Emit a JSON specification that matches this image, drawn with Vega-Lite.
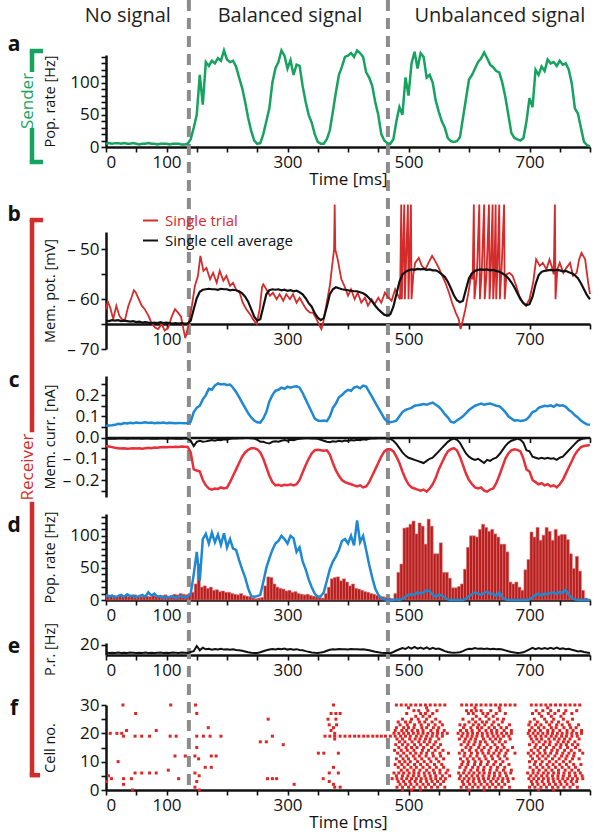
{
"$schema":"https://vega.github.io/schema/vega-lite/v6.json",
"width":484,"height":835,"autosize":"none",
"padding":{"left":106,"top":0,"right":10,"bottom":0},
"config":{"font":"Open Sans","view":{"stroke":null},
"axis":{"grid":false,"domainColor":"#111111","domainWidth":2.5,"tickColor":"#111111","tickWidth":1.6,"tickSize":5,"labelColor":"#111111","labelFontSize":17,"labelPadding":2,"titleColor":"#111111","titleFontSize":14.5,"titleFontWeight":"normal","labelOverlap":false}},
"datasets":{
"ts":[
{"t":0,"a":5,"bk":-64.3,"ce":0.055,"ci":-0.04,"cn":-0.004,"db":8,"dh":8,"e":14.6},
{"t":5,"a":6,"bk":-64.4,"ce":0.057,"ci":-0.042,"cn":-0.005,"db":5,"dh":6,"e":14.3},
{"t":10,"a":5,"bk":-64.2,"ce":0.058,"ci":-0.045,"cn":-0.004,"db":7,"dh":7,"e":14.5},
{"t":15,"a":6,"bk":-64.3,"ce":0.06,"ci":-0.048,"cn":-0.006,"db":4,"dh":5,"e":14.4},
{"t":20,"a":6,"bk":-64.2,"ce":0.065,"ci":-0.05,"cn":-0.005,"db":6,"dh":8,"e":14.6},
{"t":25,"a":5,"bk":-64.4,"ce":0.063,"ci":-0.052,"cn":-0.004,"db":8,"dh":6,"e":14.3},
{"t":30,"a":6,"bk":-64.3,"ce":0.068,"ci":-0.05,"cn":-0.005,"db":5,"dh":7,"e":14.5},
{"t":35,"a":5,"bk":-64.4,"ce":0.066,"ci":-0.053,"cn":-0.006,"db":9,"dh":5,"e":14.4},
{"t":40,"a":5,"bk":-64.5,"ce":0.07,"ci":-0.052,"cn":-0.004,"db":6,"dh":6,"e":14.6},
{"t":45,"a":6,"bk":-64.4,"ce":0.068,"ci":-0.05,"cn":-0.005,"db":7,"dh":8,"e":14.5},
{"t":50,"a":5,"bk":-64.6,"ce":0.071,"ci":-0.052,"cn":-0.005,"db":4,"dh":6,"e":14.3},
{"t":55,"a":4,"bk":-64.5,"ce":0.069,"ci":-0.05,"cn":-0.004,"db":6,"dh":5,"e":14.5},
{"t":60,"a":5,"bk":-64.7,"ce":0.07,"ci":-0.053,"cn":-0.006,"db":8,"dh":7,"e":14.4},
{"t":65,"a":5,"bk":-64.6,"ce":0.072,"ci":-0.05,"cn":-0.005,"db":5,"dh":6,"e":14.6},
{"t":70,"a":6,"bk":-64.7,"ce":0.069,"ci":-0.048,"cn":-0.004,"db":12,"dh":5,"e":14.4},
{"t":75,"a":5,"bk":-64.8,"ce":0.071,"ci":-0.05,"cn":-0.005,"db":7,"dh":7,"e":14.5},
{"t":80,"a":5,"bk":-64.7,"ce":0.068,"ci":-0.047,"cn":-0.004,"db":10,"dh":6,"e":14.3},
{"t":85,"a":4,"bk":-64.8,"ce":0.07,"ci":-0.048,"cn":-0.006,"db":5,"dh":5,"e":14.5},
{"t":90,"a":5,"bk":-64.6,"ce":0.069,"ci":-0.046,"cn":-0.005,"db":6,"dh":7,"e":14.6},
{"t":95,"a":5,"bk":-64.8,"ce":0.071,"ci":-0.045,"cn":-0.004,"db":3,"dh":8,"e":14.4},
{"t":100,"a":5,"bk":-64.7,"ce":0.068,"ci":-0.046,"cn":-0.005,"db":5,"dh":6,"e":14.5},
{"t":105,"a":4,"bk":-64.8,"ce":0.07,"ci":-0.044,"cn":-0.004,"db":4,"dh":7,"e":14.4},
{"t":110,"a":5,"bk":-64.9,"ce":0.069,"ci":-0.045,"cn":-0.005,"db":6,"dh":9,"e":14.6},
{"t":115,"a":5,"bk":-64.8,"ce":0.068,"ci":-0.043,"cn":-0.006,"db":3,"dh":8,"e":14.5},
{"t":120,"a":5,"bk":-64.9,"ce":0.069,"ci":-0.044,"cn":-0.004,"db":5,"dh":10,"e":14.4},
{"t":125,"a":4,"bk":-64.8,"ce":0.068,"ci":-0.042,"cn":-0.005,"db":6,"dh":9,"e":14.6},
{"t":130,"a":4,"bk":-64.9,"ce":0.067,"ci":-0.043,"cn":-0.004,"db":4,"dh":8,"e":14.5},
{"t":135,"a":5,"bk":-64.9,"ce":0.068,"ci":-0.044,"cn":-0.005,"db":5,"dh":10,"e":14.4},
{"t":140,"a":12,"bk":-64.3,"ce":0.075,"ci":-0.07,"cn":-0.015,"db":10,"dh":12,"e":15},
{"t":145,"a":30,"bk":-62,"ce":0.12,"ci":-0.15,"cn":-0.04,"db":40,"dh":25,"e":15.5},
{"t":150,"a":50,"bk":-59.8,"ce":0.14,"ci":-0.155,"cn":-0.02,"db":75,"dh":56,"e":19},
{"t":155,"a":112,"bk":-58.5,"ce":0.15,"ci":-0.16,"cn":-0.015,"db":30,"dh":20,"e":16.2},
{"t":160,"a":66,"bk":-58.1,"ce":0.18,"ci":-0.2,"cn":-0.02,"db":95,"dh":22,"e":17.8},
{"t":165,"a":132,"bk":-58,"ce":0.2,"ci":-0.225,"cn":-0.018,"db":103,"dh":18,"e":16.8},
{"t":170,"a":126,"bk":-57.9,"ce":0.23,"ci":-0.24,"cn":-0.015,"db":88,"dh":20,"e":17.2},
{"t":175,"a":134,"bk":-58,"ce":0.225,"ci":-0.245,"cn":-0.012,"db":105,"dh":15,"e":16.5},
{"t":180,"a":130,"bk":-58,"ce":0.245,"ci":-0.24,"cn":-0.015,"db":90,"dh":16,"e":17},
{"t":185,"a":138,"bk":-58.1,"ce":0.255,"ci":-0.242,"cn":-0.01,"db":102,"dh":13,"e":16.7},
{"t":190,"a":134,"bk":-57.9,"ce":0.25,"ci":-0.235,"cn":-0.012,"db":86,"dh":14,"e":17.1},
{"t":195,"a":150,"bk":-58,"ce":0.252,"ci":-0.24,"cn":-0.008,"db":104,"dh":12,"e":16.6},
{"t":200,"a":136,"bk":-58,"ce":0.248,"ci":-0.236,"cn":-0.01,"db":82,"dh":12,"e":16.9},
{"t":205,"a":132,"bk":-58.2,"ce":0.25,"ci":-0.21,"cn":-0.006,"db":95,"dh":10,"e":16.5},
{"t":210,"a":134,"bk":-58.1,"ce":0.235,"ci":-0.18,"cn":-0.005,"db":80,"dh":9,"e":16.8},
{"t":215,"a":125,"bk":-58.2,"ce":0.215,"ci":-0.15,"cn":-0.004,"db":78,"dh":8,"e":16.4},
{"t":220,"a":108,"bk":-58.4,"ce":0.19,"ci":-0.12,"cn":-0.003,"db":62,"dh":10,"e":16.2},
{"t":225,"a":92,"bk":-58.8,"ce":0.165,"ci":-0.09,"cn":-0.003,"db":48,"dh":7,"e":15.8},
{"t":230,"a":70,"bk":-59.5,"ce":0.14,"ci":-0.07,"cn":-0.002,"db":35,"dh":6,"e":15.3},
{"t":235,"a":45,"bk":-60.5,"ce":0.115,"ci":-0.058,"cn":-0.002,"db":18,"dh":5,"e":14.8},
{"t":240,"a":25,"bk":-62,"ce":0.095,"ci":-0.05,"cn":-0.003,"db":6,"dh":3,"e":14.5},
{"t":245,"a":10,"bk":-63.5,"ce":0.08,"ci":-0.05,"cn":-0.005,"db":5,"dh":2,"e":14.3},
{"t":250,"a":5,"bk":-64.3,"ce":0.072,"ci":-0.055,"cn":-0.01,"db":6,"dh":3,"e":14.4},
{"t":255,"a":6,"bk":-64,"ce":0.07,"ci":-0.07,"cn":-0.02,"db":8,"dh":4,"e":14.8},
{"t":260,"a":20,"bk":-61.5,"ce":0.09,"ci":-0.1,"cn":-0.02,"db":28,"dh":22,"e":15.5},
{"t":265,"a":40,"bk":-59,"ce":0.12,"ci":-0.14,"cn":-0.025,"db":50,"dh":36,"e":16.2},
{"t":270,"a":60,"bk":-58.2,"ce":0.17,"ci":-0.18,"cn":-0.028,"db":65,"dh":35,"e":16.6},
{"t":275,"a":100,"bk":-58,"ce":0.2,"ci":-0.21,"cn":-0.02,"db":78,"dh":25,"e":17},
{"t":280,"a":122,"bk":-58.1,"ce":0.22,"ci":-0.225,"cn":-0.018,"db":88,"dh":20,"e":16.7},
{"t":285,"a":132,"bk":-58,"ce":0.225,"ci":-0.222,"cn":-0.02,"db":92,"dh":18,"e":17.2},
{"t":290,"a":150,"bk":-58.2,"ce":0.235,"ci":-0.228,"cn":-0.015,"db":100,"dh":17,"e":16.8},
{"t":295,"a":142,"bk":-58.1,"ce":0.23,"ci":-0.222,"cn":-0.012,"db":95,"dh":14,"e":17.3},
{"t":300,"a":122,"bk":-58.3,"ce":0.24,"ci":-0.225,"cn":-0.015,"db":88,"dh":15,"e":16.6},
{"t":305,"a":135,"bk":-58.2,"ce":0.235,"ci":-0.22,"cn":-0.01,"db":100,"dh":12,"e":17},
{"t":310,"a":112,"bk":-58.4,"ce":0.24,"ci":-0.225,"cn":-0.012,"db":96,"dh":13,"e":16.5},
{"t":315,"a":128,"bk":-58.3,"ce":0.242,"ci":-0.22,"cn":-0.008,"db":75,"dh":10,"e":16.9},
{"t":320,"a":126,"bk":-58.6,"ce":0.235,"ci":-0.2,"cn":-0.006,"db":82,"dh":9,"e":16.4},
{"t":325,"a":95,"bk":-59,"ce":0.21,"ci":-0.165,"cn":-0.004,"db":60,"dh":8,"e":16.2},
{"t":330,"a":70,"bk":-59.8,"ce":0.18,"ci":-0.13,"cn":-0.003,"db":48,"dh":9,"e":15.6},
{"t":335,"a":50,"bk":-60.8,"ce":0.15,"ci":-0.1,"cn":-0.003,"db":32,"dh":7,"e":15.1},
{"t":340,"a":38,"bk":-61.5,"ce":0.12,"ci":-0.075,"cn":-0.004,"db":20,"dh":6,"e":14.7},
{"t":345,"a":20,"bk":-62.8,"ce":0.09,"ci":-0.06,"cn":-0.005,"db":10,"dh":5,"e":14.5},
{"t":350,"a":8,"bk":-63.7,"ce":0.08,"ci":-0.058,"cn":-0.006,"db":5,"dh":4,"e":14.4},
{"t":355,"a":5,"bk":-64.2,"ce":0.078,"ci":-0.06,"cn":-0.01,"db":6,"dh":3,"e":14.6},
{"t":360,"a":5,"bk":-63.8,"ce":0.08,"ci":-0.062,"cn":-0.015,"db":12,"dh":10,"e":15},
{"t":365,"a":12,"bk":-61.5,"ce":0.077,"ci":-0.06,"cn":-0.02,"db":30,"dh":20,"e":15.8},
{"t":370,"a":26,"bk":-59,"ce":0.1,"ci":-0.08,"cn":-0.022,"db":48,"dh":33,"e":16.5},
{"t":375,"a":55,"bk":-58,"ce":0.14,"ci":-0.12,"cn":-0.018,"db":60,"dh":35,"e":16.9},
{"t":380,"a":85,"bk":-57.6,"ce":0.16,"ci":-0.155,"cn":-0.02,"db":68,"dh":36,"e":16.6},
{"t":385,"a":112,"bk":-57.8,"ce":0.19,"ci":-0.18,"cn":-0.015,"db":78,"dh":30,"e":17},
{"t":390,"a":125,"bk":-58,"ce":0.2,"ci":-0.2,"cn":-0.018,"db":92,"dh":33,"e":16.8},
{"t":395,"a":140,"bk":-58.1,"ce":0.215,"ci":-0.21,"cn":-0.014,"db":95,"dh":28,"e":16.9},
{"t":400,"a":142,"bk":-58.2,"ce":0.225,"ci":-0.215,"cn":-0.016,"db":88,"dh":22,"e":16.7},
{"t":405,"a":146,"bk":-58.3,"ce":0.22,"ci":-0.22,"cn":-0.012,"db":100,"dh":25,"e":17},
{"t":410,"a":140,"bk":-58.4,"ce":0.235,"ci":-0.225,"cn":-0.014,"db":85,"dh":18,"e":16.8},
{"t":415,"a":150,"bk":-58.4,"ce":0.24,"ci":-0.23,"cn":-0.01,"db":124,"dh":17,"e":16.9},
{"t":420,"a":146,"bk":-58.6,"ce":0.232,"ci":-0.225,"cn":-0.012,"db":90,"dh":15,"e":16.6},
{"t":425,"a":140,"bk":-58.8,"ce":0.245,"ci":-0.235,"cn":-0.008,"db":100,"dh":13,"e":16.8},
{"t":430,"a":116,"bk":-59.2,"ce":0.24,"ci":-0.23,"cn":-0.01,"db":78,"dh":12,"e":16.5},
{"t":435,"a":108,"bk":-59.8,"ce":0.215,"ci":-0.21,"cn":-0.006,"db":55,"dh":10,"e":16.2},
{"t":440,"a":95,"bk":-60.5,"ce":0.19,"ci":-0.18,"cn":-0.005,"db":35,"dh":9,"e":15.7},
{"t":445,"a":70,"bk":-61.3,"ce":0.165,"ci":-0.15,"cn":-0.004,"db":18,"dh":7,"e":15.2},
{"t":450,"a":50,"bk":-62,"ce":0.14,"ci":-0.12,"cn":-0.003,"db":8,"dh":6,"e":14.8},
{"t":455,"a":20,"bk":-62.6,"ce":0.115,"ci":-0.09,"cn":-0.003,"db":3,"dh":5,"e":14.5},
{"t":460,"a":10,"bk":-63.1,"ce":0.09,"ci":-0.065,"cn":-0.003,"db":1,"dh":4,"e":14.3},
{"t":465,"a":6,"bk":-63.3,"ce":0.075,"ci":-0.055,"cn":-0.004,"db":0,"dh":3,"e":14.4},
{"t":470,"a":5,"bk":-63,"ce":0.072,"ci":-0.055,"cn":-0.006,"db":0,"dh":2,"e":14.2},
{"t":475,"a":12,"bk":-61.5,"ce":0.075,"ci":-0.065,"cn":-0.015,"db":0,"dh":10,"e":15},
{"t":480,"a":40,"bk":-59,"ce":0.08,"ci":-0.09,"cn":-0.03,"db":1,"dh":43,"e":16},
{"t":485,"a":62,"bk":-56.5,"ce":0.1,"ci":-0.12,"cn":-0.05,"db":0,"dh":56,"e":16.8},
{"t":490,"a":50,"bk":-55,"ce":0.12,"ci":-0.16,"cn":-0.07,"db":2,"dh":112,"e":17.6},
{"t":495,"a":108,"bk":-54.5,"ce":0.13,"ci":-0.195,"cn":-0.085,"db":5,"dh":113,"e":17},
{"t":500,"a":80,"bk":-54.2,"ce":0.135,"ci":-0.22,"cn":-0.095,"db":8,"dh":118,"e":18.2},
{"t":505,"a":130,"bk":-54,"ce":0.14,"ci":-0.235,"cn":-0.1,"db":9,"dh":123,"e":17.3},
{"t":510,"a":148,"bk":-54.1,"ce":0.15,"ci":-0.24,"cn":-0.105,"db":8,"dh":103,"e":18.4},
{"t":515,"a":122,"bk":-53.9,"ce":0.152,"ci":-0.245,"cn":-0.11,"db":12,"dh":120,"e":17.2},
{"t":520,"a":146,"bk":-54,"ce":0.155,"ci":-0.25,"cn":-0.115,"db":10,"dh":115,"e":18},
{"t":525,"a":140,"bk":-53.9,"ce":0.158,"ci":-0.245,"cn":-0.12,"db":12,"dh":87,"e":17.1},
{"t":530,"a":108,"bk":-54.1,"ce":0.155,"ci":-0.255,"cn":-0.11,"db":15,"dh":126,"e":18.1},
{"t":535,"a":112,"bk":-54,"ce":0.16,"ci":-0.24,"cn":-0.1,"db":14,"dh":115,"e":16.9},
{"t":540,"a":100,"bk":-54.2,"ce":0.165,"ci":-0.22,"cn":-0.095,"db":8,"dh":72,"e":17.8},
{"t":545,"a":72,"bk":-54.2,"ce":0.155,"ci":-0.19,"cn":-0.08,"db":5,"dh":72,"e":17},
{"t":550,"a":55,"bk":-54.5,"ce":0.145,"ci":-0.15,"cn":-0.065,"db":8,"dh":89,"e":17.3},
{"t":555,"a":40,"bk":-55,"ce":0.13,"ci":-0.12,"cn":-0.05,"db":7,"dh":43,"e":16.5},
{"t":560,"a":30,"bk":-55.5,"ce":0.11,"ci":-0.09,"cn":-0.035,"db":4,"dh":43,"e":15.6},
{"t":565,"a":14,"bk":-56.5,"ce":0.095,"ci":-0.065,"cn":-0.02,"db":1,"dh":34,"e":15},
{"t":570,"a":9,"bk":-57.8,"ce":0.075,"ci":-0.055,"cn":-0.01,"db":0,"dh":19,"e":14.6},
{"t":575,"a":8,"bk":-59.2,"ce":0.07,"ci":-0.05,"cn":-0.005,"db":0,"dh":19,"e":14.5},
{"t":580,"a":9,"bk":-60.2,"ce":0.08,"ci":-0.06,"cn":-0.01,"db":0,"dh":21,"e":14.6},
{"t":585,"a":15,"bk":-60.6,"ce":0.09,"ci":-0.09,"cn":-0.025,"db":0,"dh":25,"e":14.8},
{"t":590,"a":45,"bk":-60.3,"ce":0.1,"ci":-0.13,"cn":-0.05,"db":0,"dh":48,"e":15.6},
{"t":595,"a":75,"bk":-58,"ce":0.115,"ci":-0.17,"cn":-0.075,"db":2,"dh":82,"e":16.6},
{"t":600,"a":105,"bk":-55.8,"ce":0.13,"ci":-0.2,"cn":-0.09,"db":6,"dh":100,"e":17.2},
{"t":605,"a":112,"bk":-54.8,"ce":0.14,"ci":-0.22,"cn":-0.1,"db":9,"dh":100,"e":17},
{"t":610,"a":122,"bk":-54.3,"ce":0.15,"ci":-0.235,"cn":-0.105,"db":12,"dh":98,"e":17.6},
{"t":615,"a":132,"bk":-54.1,"ce":0.155,"ci":-0.24,"cn":-0.1,"db":10,"dh":110,"e":17.1},
{"t":620,"a":138,"bk":-54,"ce":0.16,"ci":-0.235,"cn":-0.11,"db":8,"dh":118,"e":17.4},
{"t":625,"a":147,"bk":-54.1,"ce":0.155,"ci":-0.25,"cn":-0.12,"db":11,"dh":113,"e":17},
{"t":630,"a":138,"bk":-54,"ce":0.158,"ci":-0.255,"cn":-0.105,"db":13,"dh":107,"e":17.3},
{"t":635,"a":128,"bk":-54.2,"ce":0.16,"ci":-0.245,"cn":-0.11,"db":9,"dh":110,"e":16.9},
{"t":640,"a":124,"bk":-54.1,"ce":0.155,"ci":-0.24,"cn":-0.1,"db":10,"dh":103,"e":17.2},
{"t":645,"a":118,"bk":-54.3,"ce":0.15,"ci":-0.215,"cn":-0.095,"db":6,"dh":98,"e":16.8},
{"t":650,"a":116,"bk":-54.5,"ce":0.148,"ci":-0.18,"cn":-0.08,"db":12,"dh":87,"e":17},
{"t":655,"a":100,"bk":-54.8,"ce":0.135,"ci":-0.14,"cn":-0.06,"db":4,"dh":87,"e":16.6},
{"t":660,"a":78,"bk":-55.2,"ce":0.12,"ci":-0.1,"cn":-0.04,"db":1,"dh":75,"e":16.1},
{"t":665,"a":50,"bk":-55.8,"ce":0.1,"ci":-0.075,"cn":-0.025,"db":0,"dh":28,"e":15.5},
{"t":670,"a":22,"bk":-56.6,"ce":0.09,"ci":-0.06,"cn":-0.015,"db":0,"dh":25,"e":15},
{"t":675,"a":14,"bk":-57.6,"ce":0.08,"ci":-0.055,"cn":-0.01,"db":0,"dh":28,"e":14.6},
{"t":680,"a":12,"bk":-58.8,"ce":0.082,"ci":-0.058,"cn":-0.005,"db":0,"dh":20,"e":14.4},
{"t":685,"a":10,"bk":-60,"ce":0.078,"ci":-0.065,"cn":-0.01,"db":0,"dh":15,"e":14.5},
{"t":690,"a":14,"bk":-60.8,"ce":0.08,"ci":-0.1,"cn":-0.025,"db":0,"dh":47,"e":14.8},
{"t":695,"a":40,"bk":-61.2,"ce":0.085,"ci":-0.15,"cn":-0.06,"db":0,"dh":63,"e":15.8},
{"t":700,"a":76,"bk":-61,"ce":0.1,"ci":-0.16,"cn":-0.065,"db":1,"dh":106,"e":16.8},
{"t":705,"a":62,"bk":-59.5,"ce":0.12,"ci":-0.2,"cn":-0.09,"db":4,"dh":98,"e":17.8},
{"t":710,"a":120,"bk":-57,"ce":0.125,"ci":-0.21,"cn":-0.095,"db":8,"dh":113,"e":16.9},
{"t":715,"a":112,"bk":-55.2,"ce":0.14,"ci":-0.22,"cn":-0.1,"db":10,"dh":93,"e":17.7},
{"t":720,"a":125,"bk":-54.5,"ce":0.145,"ci":-0.215,"cn":-0.095,"db":7,"dh":101,"e":17.1},
{"t":725,"a":118,"bk":-54.3,"ce":0.15,"ci":-0.225,"cn":-0.1,"db":10,"dh":113,"e":17.6},
{"t":730,"a":136,"bk":-54.2,"ce":0.148,"ci":-0.22,"cn":-0.095,"db":9,"dh":107,"e":17},
{"t":735,"a":130,"bk":-54.1,"ce":0.152,"ci":-0.23,"cn":-0.1,"db":11,"dh":93,"e":17.8},
{"t":740,"a":132,"bk":-54.2,"ce":0.145,"ci":-0.225,"cn":-0.098,"db":12,"dh":110,"e":17.1},
{"t":745,"a":126,"bk":-54.1,"ce":0.155,"ci":-0.235,"cn":-0.105,"db":9,"dh":100,"e":17.9},
{"t":750,"a":134,"bk":-54.2,"ce":0.15,"ci":-0.22,"cn":-0.095,"db":13,"dh":102,"e":17},
{"t":755,"a":128,"bk":-54.4,"ce":0.152,"ci":-0.2,"cn":-0.09,"db":11,"dh":102,"e":17.4},
{"t":760,"a":130,"bk":-54.3,"ce":0.145,"ci":-0.17,"cn":-0.075,"db":16,"dh":94,"e":16.8},
{"t":765,"a":120,"bk":-54.6,"ce":0.13,"ci":-0.14,"cn":-0.06,"db":8,"dh":72,"e":17.2},
{"t":770,"a":98,"bk":-54.8,"ce":0.12,"ci":-0.11,"cn":-0.045,"db":3,"dh":49,"e":16.5},
{"t":775,"a":60,"bk":-55.2,"ce":0.105,"ci":-0.08,"cn":-0.03,"db":1,"dh":68,"e":16},
{"t":780,"a":52,"bk":-55.8,"ce":0.095,"ci":-0.06,"cn":-0.015,"db":0,"dh":45,"e":15.4},
{"t":785,"a":30,"bk":-56.8,"ce":0.08,"ci":-0.045,"cn":-0.008,"db":0,"dh":15,"e":15.7},
{"t":790,"a":8,"bk":-58,"ce":0.07,"ci":-0.04,"cn":-0.004,"db":0,"dh":3,"e":15},
{"t":795,"a":3,"bk":-59.2,"ce":0.062,"ci":-0.037,"cn":-0.002,"db":0,"dh":1,"e":14.6},
{"t":800,"a":1,"bk":-60,"ce":0.06,"ci":-0.035,"cn":-0.002,"db":0,"dh":null,"e":14.3}
],
"bred":[
{"t":0,"v":-62},{"t":3,"v":-60.5},{"t":7,"v":-61.7},{"t":12,"v":-64},{"t":17,"v":-61.3},{"t":22,"v":-63.3},{"t":26,"v":-64},{"t":31,"v":-64.3},{"t":37,"v":-61.3},{"t":42,"v":-59.7},{"t":46,"v":-58.2},{"t":49,"v":-58.6},{"t":53,"v":-59.7},{"t":59,"v":-61.3},{"t":64,"v":-62},{"t":70,"v":-63.3},{"t":75,"v":-64.7},{"t":81,"v":-65.7},{"t":86,"v":-66},{"t":92,"v":-65},{"t":97,"v":-66.3},{"t":103,"v":-65.7},{"t":108,"v":-63.7},{"t":114,"v":-62},{"t":119,"v":-62.7},{"t":124,"v":-63.5},{"t":128,"v":-66},{"t":131,"v":-67.8},{"t":134,"v":-66.5},{"t":137,"v":-64.5},{"t":142,"v":-61.3},{"t":147,"v":-57.3},{"t":152,"v":-55.3},{"t":156,"v":-51.3},{"t":161,"v":-54.3},{"t":166,"v":-53.7},{"t":172,"v":-56},{"t":177,"v":-54.7},{"t":183,"v":-56.7},{"t":188,"v":-54.3},{"t":194,"v":-56.3},{"t":199,"v":-55.3},{"t":205,"v":-57.3},{"t":210,"v":-56.7},{"t":216,"v":-58.3},{"t":221,"v":-58.7},{"t":226,"v":-60.7},{"t":232,"v":-62},{"t":238,"v":-63},{"t":243,"v":-64},{"t":249,"v":-65},{"t":254,"v":-62},{"t":258,"v":-57.5},{"t":260,"v":-57},{"t":265,"v":-58},{"t":271,"v":-59.3},{"t":276,"v":-58.7},{"t":282,"v":-60},{"t":287,"v":-59},{"t":293,"v":-60.3},{"t":298,"v":-59},{"t":304,"v":-60},{"t":309,"v":-59},{"t":315,"v":-60.7},{"t":320,"v":-59.7},{"t":326,"v":-61},{"t":331,"v":-62},{"t":337,"v":-62.7},{"t":342,"v":-62.7},{"t":348,"v":-64},{"t":353,"v":-65.3},{"t":356,"v":-66},{"t":359,"v":-64.7},{"t":364,"v":-61.3},{"t":370,"v":-57.3},{"t":375,"v":-52},{"t":377,"v":-50},{"t":378,"v":-41},{"t":379,"v":-50},{"t":383,"v":-52},{"t":389,"v":-56},{"t":394,"v":-57.3},{"t":400,"v":-59.3},{"t":405,"v":-58},{"t":411,"v":-60},{"t":416,"v":-58.7},{"t":422,"v":-60.7},{"t":428,"v":-59.7},{"t":433,"v":-61.3},{"t":439,"v":-60},{"t":444,"v":-61},{"t":450,"v":-59.7},{"t":455,"v":-60.7},{"t":461,"v":-58.7},{"t":467,"v":-59.7},{"t":472,"v":-60.3},{"t":478,"v":-58},{"t":483,"v":-59.3},{"t":486,"v":-60},{"t":488,"v":-41},{"t":489,"v":-60},{"t":493,"v":-41},{"t":494,"v":-60},{"t":499,"v":-41},{"t":500,"v":-60},{"t":504,"v":-41},{"t":505,"v":-60},{"t":508,"v":-55},{"t":511,"v":-52.7},{"t":517,"v":-51.7},{"t":522,"v":-53.3},{"t":528,"v":-54},{"t":533,"v":-52.7},{"t":539,"v":-51.3},{"t":544,"v":-52.3},{"t":550,"v":-53.7},{"t":556,"v":-55.3},{"t":561,"v":-56.7},{"t":567,"v":-58.7},{"t":572,"v":-60.7},{"t":578,"v":-62.7},{"t":583,"v":-64},{"t":586,"v":-66},{"t":589,"v":-64.7},{"t":594,"v":-62},{"t":600,"v":-58},{"t":603,"v":-55.3},{"t":606,"v":-56},{"t":608,"v":-41},{"t":609,"v":-60},{"t":613,"v":-55},{"t":617,"v":-41},{"t":618,"v":-60},{"t":621,"v":-54.5},{"t":625,"v":-41},{"t":626,"v":-60},{"t":629,"v":-55},{"t":633,"v":-41},{"t":634,"v":-60},{"t":636,"v":-54},{"t":639,"v":-41},{"t":640,"v":-60},{"t":642,"v":-55},{"t":644,"v":-41},{"t":645,"v":-60},{"t":647,"v":-54},{"t":650,"v":-41},{"t":651,"v":-60},{"t":654,"v":-53.5},{"t":658,"v":-41},{"t":659,"v":-60},{"t":662,"v":-55},{"t":667,"v":-54.7},{"t":672,"v":-55.3},{"t":678,"v":-57.3},{"t":683,"v":-59.3},{"t":689,"v":-60.7},{"t":694,"v":-61.3},{"t":700,"v":-60},{"t":706,"v":-56.7},{"t":711,"v":-52},{"t":717,"v":-53.3},{"t":722,"v":-52.7},{"t":728,"v":-54},{"t":733,"v":-52},{"t":737,"v":-53.5},{"t":740,"v":-55},{"t":742,"v":-41},{"t":743,"v":-60},{"t":746,"v":-54},{"t":750,"v":-52.7},{"t":756,"v":-54.7},{"t":761,"v":-53.7},{"t":767,"v":-52.7},{"t":772,"v":-55.3},{"t":778,"v":-54.7},{"t":782,"v":-52},{"t":786,"v":-50.7},{"t":792,"v":-52},{"t":797,"v":-56.7},{"t":800,"v":-59}
],
"raster":[
{"c":30,"t":28},{"c":30,"t":107},{"c":30,"t":148},{"c":30,"t":376},
{"c":27,"t":49},{"c":27,"t":150},{"c":27,"t":372},{"c":27,"t":380},{"c":27,"t":387},
{"c":25,"t":268},{"c":25,"t":367},{"c":25,"t":380},
{"c":23,"t":369},{"c":23,"t":381},
{"c":22,"t":169},{"c":22,"t":376},
{"c":21,"t":34},{"c":21,"t":83},{"c":21,"t":372},
{"c":20,"t":7},{"c":20,"t":18},{"c":20,"t":26},{"c":20,"t":378},
{"c":19,"t":29},{"c":19,"t":48},{"c":19,"t":59},{"c":19,"t":72},{"c":19,"t":106},{"c":19,"t":116},{"c":19,"t":150},{"c":19,"t":161},{"c":19,"t":172},{"c":19,"t":190},{"c":19,"t":275},{"c":19,"t":362},{"c":19,"t":370},{"c":19,"t":378},{"c":19,"t":387},{"c":19,"t":395},{"c":19,"t":403},{"c":19,"t":411},{"c":19,"t":418},{"c":19,"t":426},{"c":19,"t":433},{"c":19,"t":441},{"c":19,"t":448},{"c":19,"t":455},{"c":19,"t":462},
{"c":18,"t":378},
{"c":17,"t":255},{"c":17,"t":265},
{"c":16,"t":293},
{"c":15,"t":150},
{"c":13,"t":351},{"c":13,"t":360},{"c":13,"t":384},
{"c":12,"t":114},{"c":12,"t":131},{"c":12,"t":147},{"c":12,"t":174},{"c":12,"t":182},
{"c":11,"t":153},
{"c":10,"t":20},
{"c":8,"t":164},{"c":8,"t":174},{"c":8,"t":376},
{"c":7,"t":103},
{"c":6,"t":48},{"c":6,"t":59},{"c":6,"t":72},{"c":6,"t":83},{"c":6,"t":147},{"c":6,"t":369},{"c":6,"t":384},
{"c":5,"t":4},{"c":5,"t":154},
{"c":4,"t":9},{"c":4,"t":29},{"c":4,"t":42},{"c":4,"t":120},{"c":4,"t":267},{"c":4,"t":275},{"c":4,"t":282},{"c":4,"t":359},
{"c":3,"t":1},{"c":3,"t":150},{"c":3,"t":369},
{"c":2,"t":29},{"c":2,"t":311},{"c":2,"t":376},
{"c":1,"t":147},{"c":1,"t":378},{"c":1,"t":387},
{"c":0,"t":44},{"c":0,"t":154},
{"c":30,"t":480},{"c":30,"t":488},{"c":30,"t":496},{"c":30,"t":504},{"c":30,"t":512},{"c":30,"t":520},{"c":30,"t":528},{"c":30,"t":536},{"c":30,"t":544},{"c":30,"t":552},{"c":30,"t":560},{"c":30,"t":588},{"c":30,"t":596},{"c":30,"t":604},{"c":30,"t":612},{"c":30,"t":620},{"c":30,"t":628},{"c":30,"t":636},{"c":30,"t":644},{"c":30,"t":652},{"c":30,"t":660},{"c":30,"t":668},{"c":30,"t":676},{"c":30,"t":703},{"c":30,"t":711},{"c":30,"t":719},{"c":30,"t":727},{"c":30,"t":735},{"c":30,"t":743},{"c":30,"t":751},{"c":30,"t":759},{"c":30,"t":767},{"c":30,"t":775},{"c":30,"t":783},
{"c":29,"t":500},{"c":29,"t":530},{"c":29,"t":610},{"c":29,"t":650},{"c":29,"t":730},
{"c":28,"t":509},{"c":28,"t":517},{"c":28,"t":532},{"c":28,"t":547},{"c":28,"t":596},{"c":28,"t":604},{"c":28,"t":612},{"c":28,"t":620},{"c":28,"t":636},{"c":28,"t":651},{"c":28,"t":711},{"c":28,"t":722},{"c":28,"t":735},{"c":28,"t":748},{"c":28,"t":760},{"c":28,"t":778},
{"c":27,"t":497},{"c":27,"t":520},{"c":27,"t":528},{"c":27,"t":540},{"c":27,"t":599},{"c":27,"t":607},{"c":27,"t":623},{"c":27,"t":631},{"c":27,"t":645},{"c":27,"t":660},{"c":27,"t":705},{"c":27,"t":716},{"c":27,"t":731},{"c":27,"t":742},{"c":27,"t":757},{"c":27,"t":770},
{"c":26,"t":512},{"c":26,"t":524},{"c":26,"t":535},{"c":26,"t":612},{"c":26,"t":628},{"c":26,"t":640},{"c":26,"t":720},{"c":26,"t":736},{"c":26,"t":752},
{"c":25,"t":490},{"c":25,"t":505},{"c":25,"t":516},{"c":25,"t":530},{"c":25,"t":545},{"c":25,"t":590},{"c":25,"t":606},{"c":25,"t":618},{"c":25,"t":633},{"c":25,"t":647},{"c":25,"t":657},{"c":25,"t":708},{"c":25,"t":725},{"c":25,"t":740},{"c":25,"t":756},{"c":25,"t":771},
{"c":24,"t":483},{"c":24,"t":495},{"c":24,"t":503},{"c":24,"t":518},{"c":24,"t":527},{"c":24,"t":539},{"c":24,"t":552},{"c":24,"t":600},{"c":24,"t":611},{"c":24,"t":622},{"c":24,"t":629},{"c":24,"t":641},{"c":24,"t":655},{"c":24,"t":701},{"c":24,"t":713},{"c":24,"t":728},{"c":24,"t":737},{"c":24,"t":748},{"c":24,"t":763},
{"c":23,"t":486},{"c":23,"t":498},{"c":23,"t":510},{"c":23,"t":521},{"c":23,"t":533},{"c":23,"t":544},{"c":23,"t":556},{"c":23,"t":585},{"c":23,"t":593},{"c":23,"t":607},{"c":23,"t":616},{"c":23,"t":626},{"c":23,"t":638},{"c":23,"t":649},{"c":23,"t":667},{"c":23,"t":699},{"c":23,"t":710},{"c":23,"t":719},{"c":23,"t":733},{"c":23,"t":745},{"c":23,"t":754},{"c":23,"t":766},{"c":23,"t":781},
{"c":22,"t":480},{"c":22,"t":492},{"c":22,"t":500},{"c":22,"t":509},{"c":22,"t":522},{"c":22,"t":530},{"c":22,"t":541},{"c":22,"t":550},{"c":22,"t":591},{"c":22,"t":603},{"c":22,"t":614},{"c":22,"t":621},{"c":22,"t":633},{"c":22,"t":642},{"c":22,"t":653},{"c":22,"t":662},{"c":22,"t":704},{"c":22,"t":715},{"c":22,"t":724},{"c":22,"t":736},{"c":22,"t":744},{"c":22,"t":757},{"c":22,"t":768},{"c":22,"t":777},
{"c":21,"t":478},{"c":21,"t":489},{"c":21,"t":497},{"c":21,"t":506},{"c":21,"t":515},{"c":21,"t":524},{"c":21,"t":537},{"c":21,"t":548},{"c":21,"t":559},{"c":21,"t":586},{"c":21,"t":596},{"c":21,"t":605},{"c":21,"t":617},{"c":21,"t":628},{"c":21,"t":637},{"c":21,"t":646},{"c":21,"t":658},{"c":21,"t":670},{"c":21,"t":700},{"c":21,"t":709},{"c":21,"t":718},{"c":21,"t":730},{"c":21,"t":739},{"c":21,"t":750},{"c":21,"t":762},{"c":21,"t":772},{"c":21,"t":786},
{"c":20,"t":476},{"c":20,"t":484},{"c":20,"t":492},{"c":20,"t":500},{"c":20,"t":508},{"c":20,"t":516},{"c":20,"t":524},{"c":20,"t":532},{"c":20,"t":540},{"c":20,"t":548},{"c":20,"t":556},{"c":20,"t":564},{"c":20,"t":582},{"c":20,"t":590},{"c":20,"t":598},{"c":20,"t":606},{"c":20,"t":614},{"c":20,"t":622},{"c":20,"t":630},{"c":20,"t":638},{"c":20,"t":646},{"c":20,"t":654},{"c":20,"t":662},{"c":20,"t":670},{"c":20,"t":698},{"c":20,"t":706},{"c":20,"t":714},{"c":20,"t":722},{"c":20,"t":730},{"c":20,"t":738},{"c":20,"t":746},{"c":20,"t":754},{"c":20,"t":762},{"c":20,"t":770},{"c":20,"t":778},{"c":20,"t":786},
{"c":19,"t":470},{"c":19,"t":478},{"c":19,"t":487},{"c":19,"t":495},{"c":19,"t":503},{"c":19,"t":513},{"c":19,"t":521},{"c":19,"t":530},{"c":19,"t":539},{"c":19,"t":547},{"c":19,"t":556},{"c":19,"t":588},{"c":19,"t":597},{"c":19,"t":605},{"c":19,"t":613},{"c":19,"t":622},{"c":19,"t":631},{"c":19,"t":640},{"c":19,"t":648},{"c":19,"t":657},{"c":19,"t":666},{"c":19,"t":701},{"c":19,"t":710},{"c":19,"t":719},{"c":19,"t":727},{"c":19,"t":736},{"c":19,"t":744},{"c":19,"t":753},{"c":19,"t":761},{"c":19,"t":770},{"c":19,"t":779},
{"c":18,"t":481},{"c":18,"t":490},{"c":18,"t":502},{"c":18,"t":511},{"c":18,"t":519},{"c":18,"t":528},{"c":18,"t":536},{"c":18,"t":550},{"c":18,"t":584},{"c":18,"t":594},{"c":18,"t":603},{"c":18,"t":611},{"c":18,"t":624},{"c":18,"t":635},{"c":18,"t":644},{"c":18,"t":652},{"c":18,"t":668},{"c":18,"t":703},{"c":18,"t":712},{"c":18,"t":720},{"c":18,"t":732},{"c":18,"t":741},{"c":18,"t":749},{"c":18,"t":758},{"c":18,"t":767},{"c":18,"t":782},
{"c":17,"t":485},{"c":17,"t":494},{"c":17,"t":506},{"c":17,"t":517},{"c":17,"t":526},{"c":17,"t":535},{"c":17,"t":545},{"c":17,"t":592},{"c":17,"t":600},{"c":17,"t":610},{"c":17,"t":619},{"c":17,"t":627},{"c":17,"t":639},{"c":17,"t":650},{"c":17,"t":660},{"c":17,"t":706},{"c":17,"t":716},{"c":17,"t":726},{"c":17,"t":734},{"c":17,"t":747},{"c":17,"t":756},{"c":17,"t":764},{"c":17,"t":775},
{"c":16,"t":479},{"c":16,"t":490},{"c":16,"t":499},{"c":16,"t":510},{"c":16,"t":520},{"c":16,"t":531},{"c":16,"t":542},{"c":16,"t":553},{"c":16,"t":587},{"c":16,"t":598},{"c":16,"t":608},{"c":16,"t":618},{"c":16,"t":630},{"c":16,"t":643},{"c":16,"t":655},{"c":16,"t":700},{"c":16,"t":711},{"c":16,"t":723},{"c":16,"t":733},{"c":16,"t":744},{"c":16,"t":752},{"c":16,"t":761},{"c":16,"t":771},{"c":16,"t":780},
{"c":15,"t":484},{"c":15,"t":496},{"c":15,"t":505},{"c":15,"t":514},{"c":15,"t":525},{"c":15,"t":538},{"c":15,"t":549},{"c":15,"t":595},{"c":15,"t":603},{"c":15,"t":616},{"c":15,"t":625},{"c":15,"t":636},{"c":15,"t":647},{"c":15,"t":658},{"c":15,"t":672},{"c":15,"t":709},{"c":15,"t":718},{"c":15,"t":728},{"c":15,"t":740},{"c":15,"t":751},{"c":15,"t":763},{"c":15,"t":776},
{"c":14,"t":477},{"c":14,"t":488},{"c":14,"t":498},{"c":14,"t":509},{"c":14,"t":523},{"c":14,"t":533},{"c":14,"t":544},{"c":14,"t":557},{"c":14,"t":589},{"c":14,"t":601},{"c":14,"t":612},{"c":14,"t":621},{"c":14,"t":633},{"c":14,"t":645},{"c":14,"t":653},{"c":14,"t":664},{"c":14,"t":703},{"c":14,"t":714},{"c":14,"t":725},{"c":14,"t":737},{"c":14,"t":746},{"c":14,"t":758},{"c":14,"t":769},{"c":14,"t":783},
{"c":13,"t":482},{"c":13,"t":492},{"c":13,"t":503},{"c":13,"t":512},{"c":13,"t":521},{"c":13,"t":530},{"c":13,"t":540},{"c":13,"t":552},{"c":13,"t":566},{"c":13,"t":584},{"c":13,"t":593},{"c":13,"t":604},{"c":13,"t":614},{"c":13,"t":623},{"c":13,"t":632},{"c":13,"t":641},{"c":13,"t":650},{"c":13,"t":661},{"c":13,"t":676},{"c":13,"t":698},{"c":13,"t":707},{"c":13,"t":717},{"c":13,"t":726},{"c":13,"t":735},{"c":13,"t":745},{"c":13,"t":755},{"c":13,"t":765},{"c":13,"t":774},{"c":13,"t":788},
{"c":12,"t":487},{"c":12,"t":497},{"c":12,"t":508},{"c":12,"t":518},{"c":12,"t":529},{"c":12,"t":541},{"c":12,"t":553},{"c":12,"t":592},{"c":12,"t":602},{"c":12,"t":613},{"c":12,"t":626},{"c":12,"t":637},{"c":12,"t":648},{"c":12,"t":659},{"c":12,"t":702},{"c":12,"t":713},{"c":12,"t":722},{"c":12,"t":731},{"c":12,"t":742},{"c":12,"t":753},{"c":12,"t":762},{"c":12,"t":773},
{"c":11,"t":480},{"c":11,"t":491},{"c":11,"t":500},{"c":11,"t":511},{"c":11,"t":522},{"c":11,"t":534},{"c":11,"t":546},{"c":11,"t":558},{"c":11,"t":586},{"c":11,"t":597},{"c":11,"t":607},{"c":11,"t":617},{"c":11,"t":628},{"c":11,"t":639},{"c":11,"t":651},{"c":11,"t":663},{"c":11,"t":705},{"c":11,"t":716},{"c":11,"t":727},{"c":11,"t":738},{"c":11,"t":749},{"c":11,"t":760},{"c":11,"t":771},{"c":11,"t":782},
{"c":10,"t":485},{"c":10,"t":494},{"c":10,"t":503},{"c":10,"t":515},{"c":10,"t":526},{"c":10,"t":537},{"c":10,"t":550},{"c":10,"t":590},{"c":10,"t":599},{"c":10,"t":610},{"c":10,"t":620},{"c":10,"t":632},{"c":10,"t":644},{"c":10,"t":656},{"c":10,"t":700},{"c":10,"t":710},{"c":10,"t":721},{"c":10,"t":733},{"c":10,"t":744},{"c":10,"t":756},{"c":10,"t":767},
{"c":9,"t":478},{"c":9,"t":489},{"c":9,"t":499},{"c":9,"t":510},{"c":9,"t":520},{"c":9,"t":531},{"c":9,"t":543},{"c":9,"t":555},{"c":9,"t":588},{"c":9,"t":598},{"c":9,"t":609},{"c":9,"t":619},{"c":9,"t":630},{"c":9,"t":641},{"c":9,"t":652},{"c":9,"t":666},{"c":9,"t":708},{"c":9,"t":718},{"c":9,"t":729},{"c":9,"t":739},{"c":9,"t":750},{"c":9,"t":761},{"c":9,"t":773},{"c":9,"t":785},
{"c":8,"t":483},{"c":8,"t":493},{"c":8,"t":504},{"c":8,"t":513},{"c":8,"t":524},{"c":8,"t":535},{"c":8,"t":546},{"c":8,"t":558},{"c":8,"t":585},{"c":8,"t":595},{"c":8,"t":606},{"c":8,"t":615},{"c":8,"t":625},{"c":8,"t":636},{"c":8,"t":647},{"c":8,"t":659},{"c":8,"t":701},{"c":8,"t":712},{"c":8,"t":722},{"c":8,"t":732},{"c":8,"t":743},{"c":8,"t":754},{"c":8,"t":765},{"c":8,"t":776},
{"c":7,"t":488},{"c":7,"t":498},{"c":7,"t":509},{"c":7,"t":519},{"c":7,"t":530},{"c":7,"t":541},{"c":7,"t":552},{"c":7,"t":565},{"c":7,"t":593},{"c":7,"t":603},{"c":7,"t":614},{"c":7,"t":624},{"c":7,"t":635},{"c":7,"t":646},{"c":7,"t":657},{"c":7,"t":670},{"c":7,"t":706},{"c":7,"t":716},{"c":7,"t":727},{"c":7,"t":737},{"c":7,"t":748},{"c":7,"t":759},{"c":7,"t":770},{"c":7,"t":781},
{"c":6,"t":476},{"c":6,"t":484},{"c":6,"t":492},{"c":6,"t":501},{"c":6,"t":509},{"c":6,"t":517},{"c":6,"t":526},{"c":6,"t":534},{"c":6,"t":543},{"c":6,"t":552},{"c":6,"t":562},{"c":6,"t":583},{"c":6,"t":591},{"c":6,"t":600},{"c":6,"t":608},{"c":6,"t":617},{"c":6,"t":625},{"c":6,"t":634},{"c":6,"t":642},{"c":6,"t":651},{"c":6,"t":660},{"c":6,"t":669},{"c":6,"t":697},{"c":6,"t":706},{"c":6,"t":714},{"c":6,"t":723},{"c":6,"t":731},{"c":6,"t":740},{"c":6,"t":748},{"c":6,"t":757},{"c":6,"t":766},{"c":6,"t":775},{"c":6,"t":784},
{"c":5,"t":480},{"c":5,"t":490},{"c":5,"t":499},{"c":5,"t":508},{"c":5,"t":517},{"c":5,"t":527},{"c":5,"t":536},{"c":5,"t":545},{"c":5,"t":556},{"c":5,"t":568},{"c":5,"t":586},{"c":5,"t":596},{"c":5,"t":605},{"c":5,"t":614},{"c":5,"t":623},{"c":5,"t":633},{"c":5,"t":642},{"c":5,"t":651},{"c":5,"t":662},{"c":5,"t":702},{"c":5,"t":711},{"c":5,"t":720},{"c":5,"t":729},{"c":5,"t":738},{"c":5,"t":747},{"c":5,"t":756},{"c":5,"t":766},{"c":5,"t":776},{"c":5,"t":787},
{"c":4,"t":473},{"c":4,"t":481},{"c":4,"t":489},{"c":4,"t":497},{"c":4,"t":505},{"c":4,"t":513},{"c":4,"t":521},{"c":4,"t":529},{"c":4,"t":537},{"c":4,"t":545},{"c":4,"t":553},{"c":4,"t":561},{"c":4,"t":584},{"c":4,"t":592},{"c":4,"t":600},{"c":4,"t":608},{"c":4,"t":616},{"c":4,"t":624},{"c":4,"t":632},{"c":4,"t":640},{"c":4,"t":648},{"c":4,"t":656},{"c":4,"t":664},{"c":4,"t":673},{"c":4,"t":699},{"c":4,"t":707},{"c":4,"t":715},{"c":4,"t":723},{"c":4,"t":731},{"c":4,"t":739},{"c":4,"t":747},{"c":4,"t":755},{"c":4,"t":763},{"c":4,"t":771},{"c":4,"t":779},{"c":4,"t":788},
{"c":3,"t":483},{"c":3,"t":492},{"c":3,"t":502},{"c":3,"t":511},{"c":3,"t":520},{"c":3,"t":530},{"c":3,"t":539},{"c":3,"t":548},{"c":3,"t":558},{"c":3,"t":589},{"c":3,"t":598},{"c":3,"t":607},{"c":3,"t":617},{"c":3,"t":626},{"c":3,"t":636},{"c":3,"t":645},{"c":3,"t":655},{"c":3,"t":665},{"c":3,"t":703},{"c":3,"t":712},{"c":3,"t":721},{"c":3,"t":731},{"c":3,"t":740},{"c":3,"t":750},{"c":3,"t":759},{"c":3,"t":769},{"c":3,"t":778},
{"c":2,"t":486},{"c":2,"t":495},{"c":2,"t":504},{"c":2,"t":514},{"c":2,"t":524},{"c":2,"t":533},{"c":2,"t":543},{"c":2,"t":553},{"c":2,"t":591},{"c":2,"t":601},{"c":2,"t":610},{"c":2,"t":620},{"c":2,"t":630},{"c":2,"t":639},{"c":2,"t":649},{"c":2,"t":659},{"c":2,"t":705},{"c":2,"t":714},{"c":2,"t":724},{"c":2,"t":733},{"c":2,"t":743},{"c":2,"t":752},{"c":2,"t":762},{"c":2,"t":772},
{"c":1,"t":481},{"c":1,"t":490},{"c":1,"t":500},{"c":1,"t":509},{"c":1,"t":519},{"c":1,"t":528},{"c":1,"t":538},{"c":1,"t":548},{"c":1,"t":560},{"c":1,"t":587},{"c":1,"t":596},{"c":1,"t":606},{"c":1,"t":615},{"c":1,"t":625},{"c":1,"t":634},{"c":1,"t":644},{"c":1,"t":654},{"c":1,"t":667},{"c":1,"t":700},{"c":1,"t":709},{"c":1,"t":719},{"c":1,"t":728},{"c":1,"t":738},{"c":1,"t":747},{"c":1,"t":757},{"c":1,"t":767},{"c":1,"t":779},
{"c":0,"t":490},{"c":0,"t":505},{"c":0,"t":520},{"c":0,"t":600},{"c":0,"t":625},{"c":0,"t":715},{"c":0,"t":740}
]
},
"layer":[
{"layer":[
 {"data":{"values":[{}]},"mark":{"type":"rule","color":"#8c8c8c","strokeWidth":4,"strokeDash":[11,7]},
  "encoding":{"x":{"datum":137,"type":"quantitative","scale":{"domain":[0,800],"nice":false,"zero":false}},"y":{"datum":228.5,"type":"quantitative","scale":{"domain":[0,143],"range":[147,55],"nice":false,"zero":false}},"y2":{"datum":-999}}},
 {"data":{"values":[{}]},"mark":{"type":"rule","color":"#8c8c8c","strokeWidth":4,"strokeDash":[11,7]},
  "encoding":{"x":{"datum":466,"type":"quantitative","scale":{"domain":[0,800],"nice":false,"zero":false}},"y":{"datum":228.5,"type":"quantitative","scale":{"domain":[0,143],"range":[147,55],"nice":false,"zero":false}},"y2":{"datum":-999}}},
 {"data":{"name":"ts"},"mark":{"type":"line","color":"#16a35f","strokeWidth":2.5},
  "encoding":{"x":{"field":"t","type":"quantitative","scale":{"domain":[0,800],"nice":false,"zero":false},
    "axis":{"orient":"bottom","offset":-688,"values":[0,50,100,150,200,250,300,350,400,450,500,550,600,650,700,750,800],"labelExpr":"indexof([0,100,300,500,700], datum.value) >= 0 ? datum.label : ''","title":"Time [ms]","titleFontSize":17,"titlePadding":1}},
   "y":{"field":"a","type":"quantitative","scale":{"domain":[0,143],"range":[147,55],"nice":false,"zero":false},
    "axis":{"orient":"left","values":[0,10,20,30,40,50,60,70,80,90,100,110,120,130,140],"labelExpr":"datum.value % 50 == 0 ? datum.label : ''","title":"Pop. rate  [Hz]","titleX":-56,"titleBaseline":"middle"}}}},
 {"data":{"values":[{}]},"mark":{"type":"text","text":"No signal","fontSize":20,"color":"#222222","align":"center","baseline":"middle"},
  "encoding":{"x":{"datum":36,"type":"quantitative","scale":{"domain":[0,800],"nice":false,"zero":false}},"y":{"datum":203.6,"type":"quantitative","scale":{"domain":[0,143],"range":[147,55],"nice":false,"zero":false}}}},
 {"data":{"values":[{}]},"mark":{"type":"text","text":"Balanced signal","fontSize":20,"color":"#222222","align":"center","baseline":"middle"},
  "encoding":{"x":{"datum":304,"type":"quantitative","scale":{"domain":[0,800],"nice":false,"zero":false}},"y":{"datum":203.6,"type":"quantitative","scale":{"domain":[0,143],"range":[147,55],"nice":false,"zero":false}}}},
 {"data":{"values":[{}]},"mark":{"type":"text","text":"Unbalanced signal","fontSize":20,"color":"#222222","align":"center","baseline":"middle"},
  "encoding":{"x":{"datum":651,"type":"quantitative","scale":{"domain":[0,800],"nice":false,"zero":false}},"y":{"datum":203.6,"type":"quantitative","scale":{"domain":[0,143],"range":[147,55],"nice":false,"zero":false}}}},
 {"data":{"values":[{}]},"mark":{"type":"text","text":"a","fontSize":21,"fontWeight":"bold","color":"#111111","align":"center","baseline":"middle"},
  "encoding":{"x":{"datum":-152,"type":"quantitative","scale":{"domain":[0,800],"nice":false,"zero":false}},"y":{"datum":158.5,"type":"quantitative","scale":{"domain":[0,143],"range":[147,55],"nice":false,"zero":false}}}},
 {"data":{"values":[{}]},"mark":{"type":"text","text":"Sender","fontSize":17,"angle":270,"color":"#16a35f","align":"center","baseline":"middle"},
  "encoding":{"x":{"datum":-129,"type":"quantitative","scale":{"domain":[0,800],"nice":false,"zero":false}},"y":{"datum":71.5,"type":"quantitative","scale":{"domain":[0,143],"range":[147,55],"nice":false,"zero":false}}}},
 {"data":{"values":[{}]},"mark":{"type":"rule","color":"#16a35f","strokeWidth":4.5},
  "encoding":{"x":{"datum":-122.3,"type":"quantitative","scale":{"domain":[0,800],"nice":false,"zero":false}},"y":{"datum":149.2,"type":"quantitative","scale":{"domain":[0,143],"range":[147,55],"nice":false,"zero":false}},"y2":{"datum":116.6}}},
 {"data":{"values":[{}]},"mark":{"type":"rule","color":"#16a35f","strokeWidth":4.5},
  "encoding":{"x":{"datum":-122.3,"type":"quantitative","scale":{"domain":[0,800],"nice":false,"zero":false}},"y":{"datum":29.5,"type":"quantitative","scale":{"domain":[0,143],"range":[147,55],"nice":false,"zero":false}},"y2":{"datum":-23.3}}},
 {"data":{"values":[{}]},"mark":{"type":"rule","color":"#16a35f","strokeWidth":4.5},
  "encoding":{"x":{"datum":-126,"type":"quantitative","scale":{"domain":[0,800],"nice":false,"zero":false}},"x2":{"datum":-104},"y":{"datum":149.2,"type":"quantitative","scale":{"domain":[0,143],"range":[147,55],"nice":false,"zero":false}}}},
 {"data":{"values":[{}]},"mark":{"type":"rule","color":"#16a35f","strokeWidth":4.5},
  "encoding":{"x":{"datum":-126,"type":"quantitative","scale":{"domain":[0,800],"nice":false,"zero":false}},"x2":{"datum":-104},"y":{"datum":-23.3,"type":"quantitative","scale":{"domain":[0,143],"range":[147,55],"nice":false,"zero":false}}}}
]},
{"layer":[
 {"data":{"name":"bred"},"mark":{"type":"line","strokeWidth":1.8},
  "encoding":{"x":{"field":"t","type":"quantitative","scale":{"domain":[0,800],"nice":false,"zero":false},
    "axis":{"orient":"bottom","offset":-511,"values":[100,200,300,400,500,600,700,800],"labelExpr":"indexof([100,300,500,700], datum.value) >= 0 ? datum.label : ''","title":null}},
   "y":{"field":"v","type":"quantitative","scale":{"domain":[-70,-46.5],"range":[349,232],"nice":false,"zero":false},
    "axis":{"orient":"left","values":[-70,-65,-60,-55,-50],"labelExpr":"datum.value % 10 == 0 ? '– ' + abs(datum.value) : ''","title":"Mem. pot. [mV]","titleX":-56,"titleBaseline":"middle"}},
   "color":{"datum":"Single trial","type":"nominal","scale":{"domain":["Single trial","Single cell average"],"range":["#d42b2b","#111111"]},
    "legend":{"orient":"none","legendX":36,"legendY":212,"title":null,"symbolType":"stroke","symbolStrokeWidth":2,"symbolSize":225,"labelFontSize":15,"rowPadding":3,"padding":0,"labelOffset":6,"encode":{"labels":{"update":{"fill":{"signal":"datum.label == 'Single trial' ? '#d42b2b' : '#111111'"}}}}}}}},
 {"data":{"name":"ts"},"mark":{"type":"line","strokeWidth":2.2},
  "encoding":{"x":{"field":"t","type":"quantitative","scale":{"domain":[0,800],"nice":false,"zero":false}},
   "y":{"field":"bk","type":"quantitative","scale":{"domain":[-70,-46.5],"range":[349,232],"nice":false,"zero":false}},
   "color":{"datum":"Single cell average","type":"nominal","scale":{"domain":["Single trial","Single cell average"],"range":["#d42b2b","#111111"]},
    "legend":{"orient":"none","legendX":36,"legendY":212,"title":null,"symbolType":"stroke","symbolStrokeWidth":2,"symbolSize":225,"labelFontSize":15,"rowPadding":3,"padding":0,"labelOffset":6,"encode":{"labels":{"update":{"fill":{"signal":"datum.label == 'Single trial' ? '#d42b2b' : '#111111'"}}}}}}}},
 {"data":{"values":[{}]},"mark":{"type":"text","text":"b","fontSize":21,"fontWeight":"bold","color":"#111111","align":"center","baseline":"middle"},
  "encoding":{"x":{"datum":-152,"type":"quantitative","scale":{"domain":[0,800],"nice":false,"zero":false}},"y":{"datum":-43.1,"type":"quantitative","scale":{"domain":[-70,-46.5],"range":[349,232],"nice":false,"zero":false}}}},
 {"data":{"values":[{}]},"mark":{"type":"text","text":"Receiver","fontSize":17,"angle":270,"color":"#d42b2b","align":"center","baseline":"middle"},
  "encoding":{"x":{"datum":-129,"type":"quantitative","scale":{"domain":[0,800],"nice":false,"zero":false}},"y":{"datum":-93.7,"type":"quantitative","scale":{"domain":[-70,-46.5],"range":[349,232],"nice":false,"zero":false}}}},
 {"data":{"values":[{}]},"mark":{"type":"rule","color":"#d42b2b","strokeWidth":4.5},
  "encoding":{"x":{"datum":-122.3,"type":"quantitative","scale":{"domain":[0,800],"nice":false,"zero":false}},"y":{"datum":-44.1,"type":"quantitative","scale":{"domain":[-70,-46.5],"range":[349,232],"nice":false,"zero":false}},"y2":{"datum":-86.7}}},
 {"data":{"values":[{}]},"mark":{"type":"rule","color":"#d42b2b","strokeWidth":4.5},
  "encoding":{"x":{"datum":-122.3,"type":"quantitative","scale":{"domain":[0,800],"nice":false,"zero":false}},"y":{"datum":-100.7,"type":"quantitative","scale":{"domain":[-70,-46.5],"range":[349,232],"nice":false,"zero":false}},"y2":{"datum":-155.6}}},
 {"data":{"values":[{}]},"mark":{"type":"rule","color":"#d42b2b","strokeWidth":4.5},
  "encoding":{"x":{"datum":-126,"type":"quantitative","scale":{"domain":[0,800],"nice":false,"zero":false}},"x2":{"datum":-104},"y":{"datum":-44.1,"type":"quantitative","scale":{"domain":[-70,-46.5],"range":[349,232],"nice":false,"zero":false}}}},
 {"data":{"values":[{}]},"mark":{"type":"rule","color":"#d42b2b","strokeWidth":4.5},
  "encoding":{"x":{"datum":-126,"type":"quantitative","scale":{"domain":[0,800],"nice":false,"zero":false}},"x2":{"datum":-109},"y":{"datum":-155.6,"type":"quantitative","scale":{"domain":[-70,-46.5],"range":[349,232],"nice":false,"zero":false}}}}
]},
{"layer":[
 {"data":{"name":"ts"},"mark":{"type":"line","color":"#1f88d2","strokeWidth":2.5},
  "encoding":{"x":{"field":"t","type":"quantitative","scale":{"domain":[0,800],"nice":false,"zero":false},
    "axis":{"orient":"bottom","offset":-397.4,"values":[100,200,300,400,500,600,700,800],"labels":false,"title":null}},
   "y":{"field":"ce","type":"quantitative","scale":{"domain":[-0.28,0.29],"range":[497,376],"nice":false,"zero":false},
    "axis":{"orient":"left","values":[-0.25,-0.2,-0.15,-0.1,-0.05,0,0.05,0.1,0.15,0.2,0.25],"labelExpr":"datum.value == 0 ? '0.0' : indexof([0.1,0.2], datum.value) >= 0 ? format(datum.value,'.1f') : indexof([-0.1,-0.2], datum.value) >= 0 ? '– ' + format(-datum.value,'.1f') : ''","title":"Mem. curr. [nA]","titleX":-56,"titleBaseline":"middle"}}}},
 {"data":{"name":"ts"},"mark":{"type":"line","color":"#e8303a","strokeWidth":2.5},
  "encoding":{"x":{"field":"t","type":"quantitative","scale":{"domain":[0,800],"nice":false,"zero":false}},
   "y":{"field":"ci","type":"quantitative","scale":{"domain":[-0.28,0.29],"range":[497,376],"nice":false,"zero":false}}}},
 {"data":{"name":"ts"},"mark":{"type":"line","color":"#111111","strokeWidth":2},
  "encoding":{"x":{"field":"t","type":"quantitative","scale":{"domain":[0,800],"nice":false,"zero":false}},
   "y":{"field":"cn","type":"quantitative","scale":{"domain":[-0.28,0.29],"range":[497,376],"nice":false,"zero":false}}}},
 {"data":{"values":[{}]},"mark":{"type":"text","text":"c","fontSize":21,"fontWeight":"bold","color":"#111111","align":"center","baseline":"middle"},
  "encoding":{"x":{"datum":-152,"type":"quantitative","scale":{"domain":[0,800],"nice":false,"zero":false}},"y":{"datum":0.2665,"type":"quantitative","scale":{"domain":[-0.28,0.29],"range":[497,376],"nice":false,"zero":false}}}}
]},
{"layer":[
 {"data":{"name":"ts"},"mark":{"type":"bar","fill":"#b3201f","stroke":"#e87070","strokeWidth":0.6,"binSpacing":0},
  "encoding":{"x":{"field":"t","type":"quantitative","bin":{"binned":true,"step":5},"scale":{"domain":[0,800],"nice":false,"zero":false},
    "axis":{"orient":"bottom","offset":-235,"values":[0,50,100,150,200,250,300,350,400,450,500,550,600,650,700,750,800],"labelExpr":"indexof([0,100,300,500,700], datum.value) >= 0 ? datum.label : ''","title":null}},
   "y":{"field":"dh","type":"quantitative","scale":{"domain":[0,134],"range":[600,514],"nice":false,"zero":false},
    "axis":{"orient":"left","values":[0,10,20,30,40,50,60,70,80,90,100,110,120,130],"labelExpr":"datum.value % 50 == 0 ? datum.label : ''","title":"Pop. rate  [Hz]","titleX":-56,"titleBaseline":"middle"}}}},
 {"data":{"name":"ts"},"mark":{"type":"line","color":"#1f88d2","strokeWidth":2.5},
  "encoding":{"x":{"field":"t","type":"quantitative","scale":{"domain":[0,800],"nice":false,"zero":false}},
   "y":{"field":"db","type":"quantitative","scale":{"domain":[0,134],"range":[600,514],"nice":false,"zero":false}}}},
 {"data":{"values":[{}]},"mark":{"type":"text","text":"d","fontSize":21,"fontWeight":"bold","color":"#111111","align":"center","baseline":"middle"},
  "encoding":{"x":{"datum":-152,"type":"quantitative","scale":{"domain":[0,800],"nice":false,"zero":false}},"y":{"datum":115.3,"type":"quantitative","scale":{"domain":[0,134],"range":[600,514],"nice":false,"zero":false}}}}
]},
{"layer":[
 {"data":{"name":"ts"},"mark":{"type":"line","color":"#111111","strokeWidth":2},
  "encoding":{"x":{"field":"t","type":"quantitative","scale":{"domain":[0,800],"nice":false,"zero":false},
    "axis":{"orient":"bottom","offset":-180,"values":[0,50,100,150,200,250,300,350,400,450,500,550,600,650,700,750,800],"labelExpr":"indexof([0,100,300,500,700], datum.value) >= 0 ? datum.label : ''","title":null}},
   "y":{"field":"e","type":"quantitative","scale":{"domain":[13,21],"range":[655,643],"nice":false,"zero":false},
    "axis":{"orient":"left","values":[20],"format":"d","title":"P.r. [Hz]","titleX":-56,"titleBaseline":"middle"}}}},
 {"data":{"values":[{}]},"mark":{"type":"text","text":"e","fontSize":21,"fontWeight":"bold","color":"#111111","align":"center","baseline":"middle"},
  "encoding":{"x":{"datum":-152,"type":"quantitative","scale":{"domain":[0,800],"nice":false,"zero":false}},"y":{"datum":18.3,"type":"quantitative","scale":{"domain":[13,21],"range":[655,643],"nice":false,"zero":false}}}}
]},
{"layer":[
 {"data":{"name":"raster"},"mark":{"type":"square","size":9,"color":"#e02525","opacity":1},
  "encoding":{"x":{"field":"t","type":"quantitative","scale":{"domain":[0,800],"nice":false,"zero":false},
    "axis":{"orient":"bottom","offset":-45,"values":[0,50,100,150,200,250,300,350,400,450,500,550,600,650,700,750,800],"labelExpr":"indexof([0,100,300,500,700], datum.value) >= 0 ? datum.label : ''","title":"Time [ms]","titleFontSize":17,"titlePadding":1}},
   "y":{"field":"c","type":"quantitative","scale":{"domain":[0,30],"range":[790,705],"nice":false,"zero":false},
    "axis":{"orient":"left","values":[0,5,10,15,20,25,30],"labelExpr":"datum.value % 10 == 0 ? datum.label : ''","title":"Cell no.","titleX":-56,"titleBaseline":"middle"}}}},
 {"data":{"values":[{}]},"mark":{"type":"text","text":"f","fontSize":21,"fontWeight":"bold","color":"#111111","align":"center","baseline":"middle"},
  "encoding":{"x":{"datum":-152,"type":"quantitative","scale":{"domain":[0,800],"nice":false,"zero":false}},"y":{"datum":28.6,"type":"quantitative","scale":{"domain":[0,30],"range":[790,705],"nice":false,"zero":false}}}}
]}
],
"resolve":{"scale":{"y":"independent"},"axis":{"x":"independent","y":"independent"}}
}
